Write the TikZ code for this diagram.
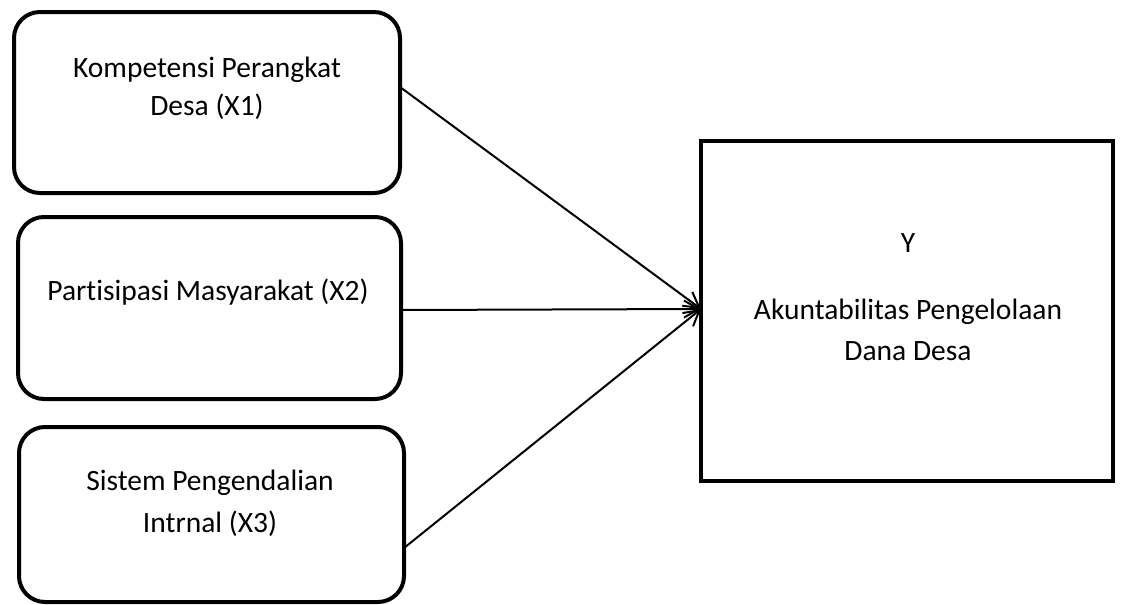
\documentclass[tikz,border=0pt]{standalone}
\usepackage{fontspec}
\setmainfont{Carlito}[Ligatures=NoCommon]
\usetikzlibrary{arrows.meta}
\begin{document}
\begin{tikzpicture}[x=1pt,y=-1pt,
  rbox/.style={draw,line width=4pt,rounded corners=26pt,inner sep=0pt,outer sep=0pt},
  sbox/.style={draw,line width=4pt,inner sep=0pt,outer sep=0pt},
  txt/.style={anchor=base,inner sep=0pt,font=\fontsize{29.5}{35}\selectfont},
  arr/.style={line width=2pt,-{Straight Barb[length=15pt,width=17pt,line width=2pt]}}]
\useasboundingbox (0,0) rectangle (1122,605);
\node[rbox,minimum width=386pt,minimum height=181pt] (x1) at (207,102.5) {};
\node[rbox,minimum width=383pt,minimum height=182pt] (x2) at (209.5,308) {};
\node[rbox,minimum width=385pt,minimum height=175pt] (x3) at (211.5,514.5) {};
\node[sbox,minimum width=412pt,minimum height=340pt] (y) at (907,311) {};
\node[txt] (t1a) at (207,77) {Kompetensi Perangkat};
\node[txt] (t1b) at (207,115) {Desa (X1)};
\node[txt] (t2a) at (208,300) {Partisipasi Masyarakat (X2)};
\node[txt] (t3a) at (210,490) {Sistem Pengendalian};
\node[txt] (t3b) at (210,532) {Intrnal (X3)};
\node[txt] (tya) at (908,252) {Y};
\node[txt] (tyb) at (908,319) {Akuntabilitas Pengelolaan};
\node[txt] (tyc) at (908,360) {Dana Desa};
\draw[arr] (x1.east |- 0,87) -- (y.west |- 0,309);
\draw[arr] (x2.east |- 0,310) -- (y.west |- 0,309);
\draw[arr] (x3.east |- 0,548) -- (y.west |- 0,309);
\end{tikzpicture}
\end{document}
